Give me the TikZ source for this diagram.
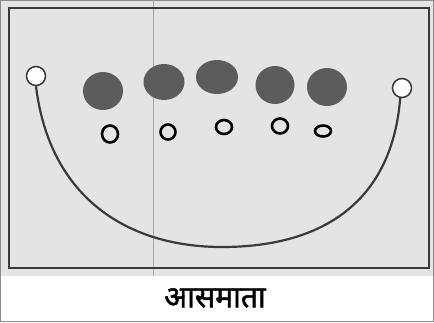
\documentclass[tikz,border=0pt]{standalone}
\usepackage{fontspec}
\newfontfamily\devfont[Script=Devanagari, FakeBold=1.6]{Noto Sans}
\usetikzlibrary{shapes.geometric}
\definecolor{paper}{HTML}{E4E4E4}
\definecolor{ink}{HTML}{3A3A3A}
\definecolor{bead}{HTML}{5C5C5C}
\definecolor{frame}{HTML}{8A8A8A}

\begin{document}
\begin{tikzpicture}[x=1pt, y=-1pt,
    bigbead/.style={ellipse, fill=bead, inner sep=0pt},
    ring/.style={ellipse, draw=black, line width=2.6pt, inner sep=0pt},
    hook/.style={circle, draw=ink, fill=white, line width=1.5pt, minimum size=19pt, inner sep=0pt}]
    \useasboundingbox (0,0) rectangle (434,322);
    \fill[paper] (0,0) rectangle (434,276);
    \draw[frame, line width=0.8pt] (0.4,0.4) rectangle (433.6,321.6);
    \draw[gray!70, line width=0.4pt] (153,0) -- (153,276);
    \draw[ink, line width=2.4pt] (9,8) rectangle (429,268);
    % hooks at both ends
    \node[hook] (lc) at (36,76) {};
    \node[hook] (rc) at (402,88) {};
    % dark beads
    \node[bigbead, minimum width=40pt, minimum height=38pt] (b1) at (103,91) {};
    \node[bigbead, minimum width=41pt, minimum height=36pt] (b2) at (164,82) {};
    \node[bigbead, minimum width=42pt, minimum height=34pt] (b3) at (217,77) {};
    \node[bigbead, minimum width=39pt, minimum height=38pt] (b4) at (275,85) {};
    \node[bigbead, minimum width=40pt, minimum height=38pt] (b5) at (327,87) {};
    % small rings
    \node[ring, minimum width=16pt, minimum height=17pt] (r1) at (110,134) {};
    \node[ring, minimum width=15pt, minimum height=15pt] (r2) at (168,132) {};
    \node[ring, minimum width=16pt, minimum height=14pt] (r3) at (224,127) {};
    \node[ring, minimum width=16pt, minimum height=15pt] (r4) at (280,126) {};
    \node[ring, minimum width=16pt, minimum height=11pt] (r5) at (323,131) {};
    % the string
    \draw[ink, line width=2.2pt] (lc.south) .. controls (50,200) and (130,247) .. (222,247)
      .. controls (325,247) and (392,200) .. (rc.-100);
    \node (cap) at (215,298) {\devfont\fontsize{30}{34}\selectfont आसमाता};
\end{tikzpicture}
\end{document}
